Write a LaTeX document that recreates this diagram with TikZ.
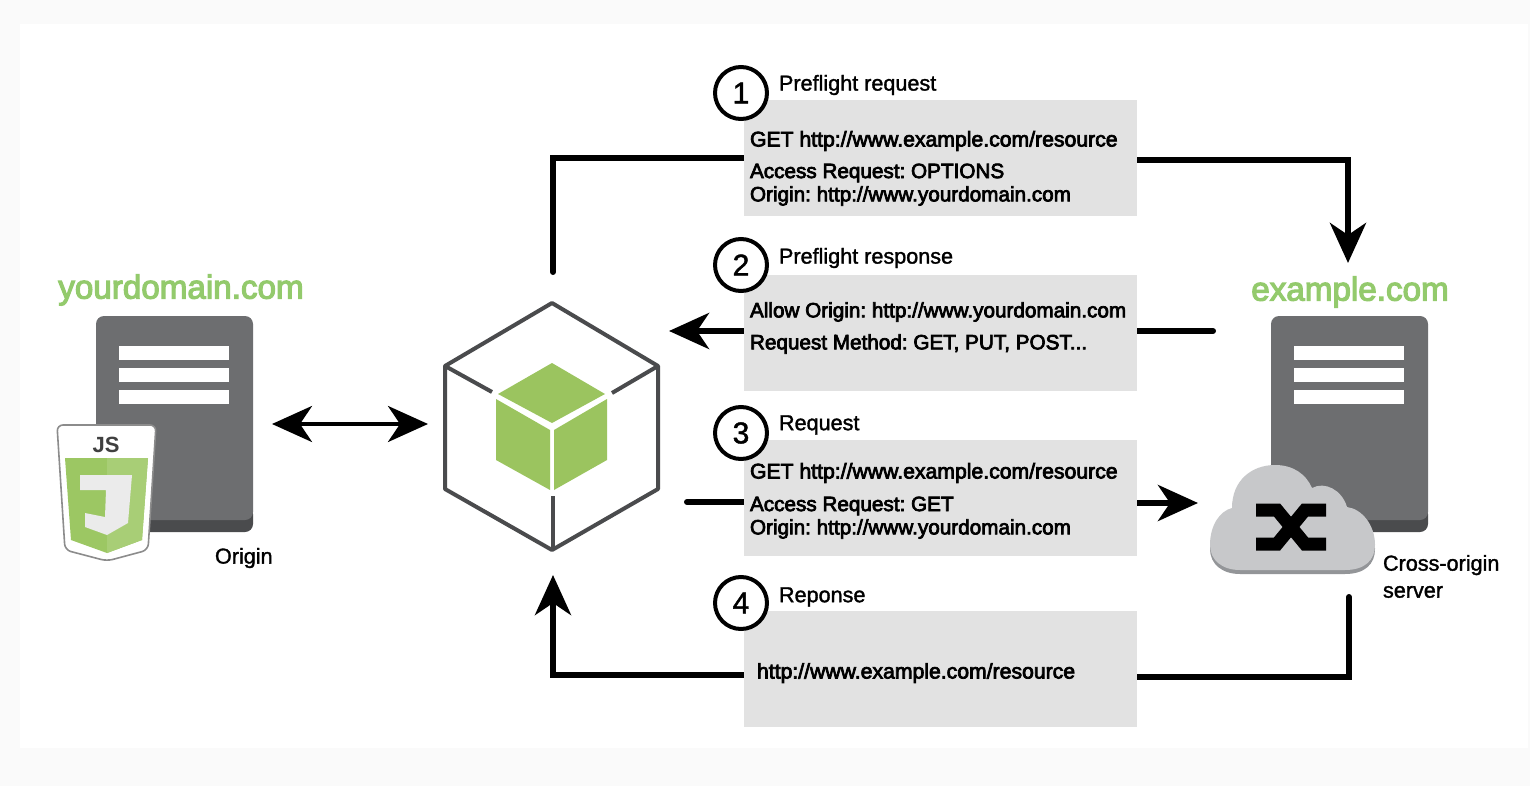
\documentclass[tikz,border=0pt]{standalone}
\usepackage{fontspec}
\setmainfont{Liberation Sans}
\newfontfamily\medfont[FakeBold=1.5]{Liberation Sans}
\newfontfamily\boxfont[FakeBold=3.5]{Liberation Sans}
\usetikzlibrary{arrows.meta, backgrounds}
\frenchspacing

\definecolor{srvgray}{HTML}{6D6E70}
\definecolor{srvdark}{HTML}{4A4B4D}
\definecolor{boxgray}{HTML}{E2E2E2}
\definecolor{cubegreen}{HTML}{9BC45F}
\definecolor{jsgreen}{HTML}{9CC763}
\definecolor{jslight}{HTML}{A8CE76}
\definecolor{namegreen}{HTML}{93CA6C}
\definecolor{cloudgray}{HTML}{C7C8CA}
\definecolor{cloudshade}{HTML}{939598}

\newcommand{\cloudpath}{
  (1210,545) .. controls (1210,525) and (1220,511) .. (1232,508)
  .. controls (1232,480) and (1252,465) .. (1275,465)
  .. controls (1293,465) and (1306,474) .. (1312,488)
  .. controls (1325,481) and (1342,490) .. (1347,507)
  .. controls (1362,509) and (1375,525) .. (1375,545)
  .. controls (1375,560) and (1365,570) .. (1345,570)
  -- (1240,570) .. controls (1222,570) and (1210,560) .. (1210,545) -- cycle
}

\begin{document}
\begin{tikzpicture}[
    x=0.5pt, y=-0.5pt,
    every node/.style={inner sep=0pt, outer sep=0pt},
    reqbox/.style={fill=boxgray, minimum width=196.5pt, minimum height=58pt},
    stepnum/.style={circle, draw=black, fill=white, line width=2pt, minimum size=26pt, font=\fontsize{15}{15}\medfont},
    steplabel/.style={anchor=west, font=\fontsize{10.8}{12}\medfont},
    boxtext/.style={anchor=west, font=\fontsize{10.35}{12}\boxfont},
    urltext/.style={anchor=west, font=\fontsize{10.6}{12}\boxfont},
    sitename/.style={text=namegreen, font=\fontsize{16.6}{18}\boxfont},
    flow/.style={line width=3pt, draw=black, line cap=round},
    flowtip/.style={flow, -{Stealth[length=20pt, width=18pt, inset=6pt]}},
    server/.pic={
        \fill[srvdark, rounded corners=4pt] (0,190) rectangle (157,216);
        \fill[srvgray, rounded corners=4pt] (0,0) rectangle (157,204);
        \foreach \y in {30,52,74} {
            \fill[white] (23,\y) rectangle (133,\y+14);
        }
    },
]

  % page and sheet
  \begin{scope}[on background layer]
    \fill[black!2] (0,0) rectangle (1530,786);
    \fill[white] (20,24) rectangle (1528,748);
  \end{scope}

  % grey boxes
  \node[reqbox] (box1) at (940.5,158) {};
  \node[reqbox] (box2) at (940.5,333) {};
  \node[reqbox] (box3) at (940.5,497.5) {};
  \node[reqbox] (box4) at (940.5,669) {};

  % box texts
  \node[urltext] (t1a) at (750,141) {GET http://www.example.com/resource};
  \node[boxtext] (t1b) at (750,173) {Access Request: OPTIONS};
  \node[boxtext] (t1c) at (750,196) {Origin: http://www.yourdomain.com};
  \node[boxtext] (t2a) at (750,312) {Allow Origin: http://www.yourdomain.com};
  \node[boxtext] (t2b) at (750,344) {Request Method: GET, PUT, POST...};
  \node[urltext] (t3a) at (750,473) {GET http://www.example.com/resource};
  \node[boxtext] (t3b) at (750,506) {Access Request: GET};
  \node[boxtext] (t3c) at (750,529) {Origin: http://www.yourdomain.com};
  \node[urltext] (t4a) at (757,673) {http://www.example.com/resource};

  % numbered steps
  \node[stepnum] (n1) at (741,93) {1};
  \node[stepnum] (n2) at (741,265) {2};
  \node[stepnum] (n3) at (741,433) {3};
  \node[stepnum] (n4) at (741,603) {4};
  \node[steplabel] (l1) at (779,85) {Preflight request};
  \node[steplabel] (l2) at (779,258) {Preflight response};
  \node[steplabel] (l3) at (779,425) {Request};
  \node[steplabel] (l4) at (779,597) {Reponse};

  % left server with the js shield
  \pic at (96,316) {server};
  \fill[white, draw=black!45, line width=0.8pt, rounded corners=3pt]
    (57,425) -- (156,425) -- (148,550) -- (107,561) -- (65,550) -- cycle;
  \fill[jsgreen] (65,458) -- (148,458) -- (142,540) -- (107,553) -- (71,540) -- cycle;
  \fill[jslight] (107,458) -- (148,458) -- (142,540) -- (107,553) -- cycle;
  \fill[black!8] (80,475) -- (132,475) -- (128,523) -- (107,535) -- (85,527)
    -- (85,513) -- (105,517) -- (106,490) -- (80,490) -- cycle;
  \node[font=\fontsize{11}{11}\selectfont\bfseries, text=black!75] (jslogo) at (106,445) {JS};

  % right server with the cloud
  \pic at (1271,316) {server};
  \fill[cloudshade, shift={(0,4)}] \cloudpath;
  \fill[cloudgray] \cloudpath;
  \draw[black, line width=6.5pt] (1256,510) -- (1277,510) -- (1305,544) -- (1326,544);
  \draw[black, line width=6.5pt] (1256,544) -- (1277,544) -- (1305,510) -- (1326,510);

  % names
  \node[sitename] (yourdomain) at (181,290) {yourdomain.com};
  \node[sitename] (example) at (1350,292) {example.com};
  \node[anchor=west, font=\fontsize{10.8}{12}\medfont] (origin) at (215,558) {Origin};
  \node[anchor=north west, align=left, font=\fontsize{10.8}{13.5}\medfont] (crossorigin) at (1383,555) {Cross-origin\\server};

  % hub cube
  \draw[srvdark, line width=2pt, line join=round]
    (552,303) -- (658,366) -- (658,489) -- (552,550) -- (445,489) -- (445,366) -- cycle;
  \draw[srvdark, line width=2pt] (445,366) -- (492,392);
  \draw[srvdark, line width=2pt] (658,366) -- (612,393);
  \draw[srvdark, line width=2pt] (553,550) -- (553,496);
  \fill[cubegreen] (552,363) -- (605,394) -- (552,423) -- (498,394) -- cycle;
  \fill[cubegreen] (496,399) -- (550,430) -- (550,490) -- (496,460) -- cycle;
  \fill[cubegreen] (554,430) -- (607,399) -- (607,460) -- (554,490) -- cycle;

  % free ends of the connectors
  \coordinate (hubtop) at (553,272);
  \coordinate (hubright) at (669,331);
  \coordinate (hubout) at (687,502);
  \coordinate (hubbottom) at (553,575);
  \coordinate (hubleft) at (428,424);
  \coordinate (originport) at (272,424);
  \coordinate (exampletop) at (1348,263);
  \coordinate (exampleout) at (1213,331);
  \coordinate (cloudin) at (1198,503);
  \coordinate (cloudout) at (1349,597);

  % connectors
  \begin{scope}[on background layer]
    \draw[flow] (hubtop) |- (box1.west);
    \draw[flowtip] ([yshift=-1pt]box1.east) -| (exampletop);
    \draw[flow] (exampleout) -- ([yshift=1pt]box2.east);
    \draw[flowtip] ([yshift=1pt]box2.west) -- (hubright);
    \draw[flow] (hubout) -- ([yshift=-2.25pt]box3.west);
    \draw[flowtip] ([yshift=-2.75pt]box3.east) -- (cloudin);
    \draw[flow] (cloudout) |- ([yshift=-4pt]box4.east);
    \draw[flowtip] ([yshift=-3pt]box4.west) -| (hubbottom);
  \end{scope}
  \draw[line width=2pt, {Stealth[length=20pt, width=18pt, inset=6pt]}-{Stealth[length=20pt, width=18pt, inset=6pt]}] (originport) -- (hubleft);

\end{tikzpicture}
\end{document}
